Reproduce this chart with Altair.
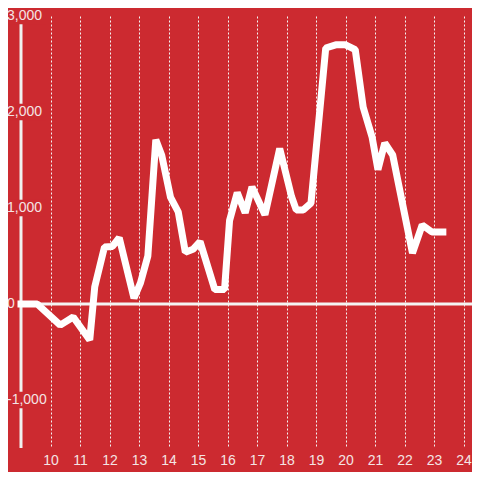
import altair as alt
import pandas as pd

# Series
times = [9.0, 9.55, 10.33, 10.77, 11.33, 11.5, 11.83, 12.1, 12.33, 12.83, 13.05, 13.3,
         13.57, 13.77, 14.07, 14.33, 14.57, 14.83, 15.07, 15.57, 15.9, 16.07, 16.33, 16.6,
         16.83, 17.27, 17.77, 18.17, 18.33, 18.57, 18.83, 19.33, 19.67, 20.0, 20.33, 20.6,
         20.9, 21.1, 21.33, 21.6, 21.77, 22.27, 22.6, 22.93, 23.3]
values = [0, 0, -220, -135, -375, 180, 594, 600, 690, 60, 220, 500,
          1710, 1550, 1110, 960, 540, 570, 650, 150, 150, 870, 1160, 950,
          1220, 930, 1620, 1120, 980, 980, 1050, 2667, 2700, 2700, 2650, 2050,
          1740, 1400, 1677, 1552, 1292, 531, 823, 750, 750]

x_ticks = list(range(10, 25))
y_grid = [-1500, -1000, -500, 0, 500, 1000, 1500, 2000, 2500, 3000]
y_label_values = [-1000, 0, 1000, 2000, 3000]
y_label_texts = ["-1,000", "0", "1,000", "2,000", "3,000"]

BG = "#cc2a30"
TXT = "#f4e4e4"
FONT = "Liberation Sans"

W, H = 451, 432
PX_PER_HOUR = 29.5

df = pd.DataFrame({"t": times, "v": values})
labels_df = pd.DataFrame({"v": y_label_values, "lab": y_label_texts})
zero_df = pd.DataFrame({"v": [0]})

xscale = alt.Scale(domain=[9, 9 + W / PX_PER_HOUR], nice=False, zero=False)
yscale = alt.Scale(domain=[-1500, 3000], nice=False, zero=False)

line = alt.Chart(df).mark_line(
    color="#ffffff", strokeWidth=7, strokeJoin="bevel", strokeCap="square"
).encode(
    x=alt.X("t:Q", scale=xscale, axis=alt.Axis(
        values=x_ticks, title=None, domain=False, ticks=False, labelFontSize=14,
        labelFont=FONT, labelColor=TXT, labelPadding=5, labelAngle=0, format="d",
        grid=True, gridColor="#f4f4f4", gridDash=[2, 2], gridWidth=1)),
    y=alt.Y("v:Q", scale=yscale, axis=alt.Axis(
        values=y_grid, title=None, labels=False, ticks=False, domain=False,
        grid=True, gridColor="#d0d0d0", gridWidth=1)),
)

axis_line = alt.Chart(zero_df).mark_rule(color="#f0f0f0", strokeWidth=3).encode(
    x=alt.value(0)
)

zero_rule = alt.Chart(zero_df).mark_rule(color="#f4f4f4", strokeWidth=3).encode(
    y=alt.Y("v:Q", scale=yscale, axis=None)
)

label_bg = alt.Chart(labels_df).transform_filter(
    "datum.v != 0"
).transform_calculate(
    lo="datum.v - 85", hi="datum.v + 85"
).mark_rect(color=BG).encode(
    x=alt.value(-16), x2=alt.value(25),
    y=alt.Y("lo:Q", scale=yscale, axis=None), y2="hi:Q"
)

label_text = alt.Chart(labels_df).mark_text(
    align="left", baseline="middle", fontSize=14, font=FONT, color=TXT
).encode(
    x=alt.value(-14),
    y=alt.Y("v:Q", scale=yscale, axis=None),
    text="lab:N",
)

chart = alt.layer(axis_line, zero_rule, line, label_bg, label_text).properties(
    width=W, height=H, background=BG,
    padding={"left": 13, "top": 8, "right": 0, "bottom": 24},
    autosize=alt.AutoSizeParams(type="none"),
).configure_view(stroke=None)

chart.save("out.html", embed_options={"renderer": "svg", "actions": False})
